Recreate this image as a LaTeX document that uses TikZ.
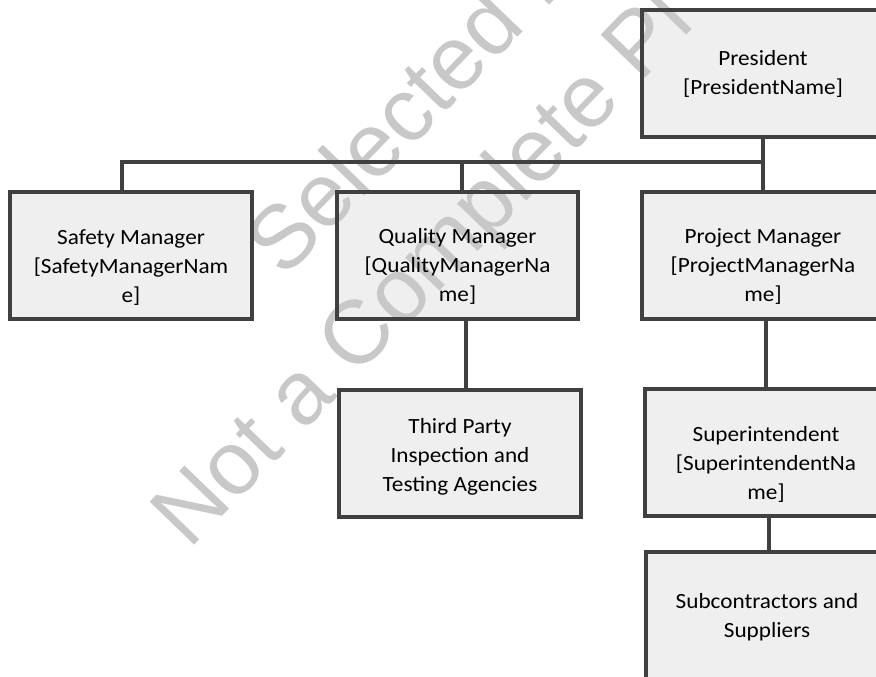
\documentclass[tikz,border=0pt]{standalone}
\usepackage{fontspec}
\setmainfont{Carlito}[FakeStretch=1.07]
\newfontfamily\wmfont{Liberation Sans}
\pgfdeclarelayer{fills}
\pgfdeclarelayer{wm}
\pgfsetlayers{fills,wm,main}
\definecolor{boxfill}{HTML}{EFEFEF}
\definecolor{linec}{HTML}{404040}
\definecolor{wmc}{HTML}{C8C8C8}
\begin{document}
\begin{tikzpicture}[x=1pt,y=-1pt,
  box/.style={draw=linec, line width=4pt, minimum width=242pt, minimum height=127pt,
    align=center, inner sep=0pt, font=\fontsize{21.7}{29}\selectfont},
  lowtext/.style={text height=96pt},
  conn/.style={draw=linec, line width=4pt},
  wmtext/.style={text=wmc, inner sep=0pt, rotate=46, anchor=base west,
    font=\wmfont\fontsize{90}{100}\selectfont}]
\useasboundingbox (0,0) rectangle (876,677);
\clip (0,0) rectangle (876,677);

\node[box] (pres) at (763,73.5) {President\\{[}PresidentName{]}};
\node[box, lowtext] (safety) at (131,255.5) {Safety Manager\\{[}SafetyManagerNam\\e{]}};
\node[box, lowtext, minimum width=241pt] (quality) at (457.5,255) {Quality Manager\\{[}QualityManagerNa\\me{]}};
\node[box, lowtext] (pm) at (763,255) {Project Manager\\{[}ProjectManagerNa\\me{]}};
\node[box, text height=80pt] (third) at (460,453) {Third Party\\Inspection and\\Testing Agencies};
\node[box, lowtext] (super) at (766,452.5) {Superintendent\\{[}SuperintendentNa\\me{]}};
\node[box, minimum height=130pt] (sub) at (767,617) {Subcontractors and\\Suppliers};

\begin{pgfonlayer}{fills}
  \foreach \n in {pres,safety,quality,pm,third,super,sub}
    \fill[boxfill] (\n.north west) rectangle (\n.south east);
\end{pgfonlayer}

\begin{pgfonlayer}{wm}
  \node[wmtext] (wm1) at (284,280) {Selected P};
  \node[wmtext] (wm2) at (189,551) {Not a Complete Pl};
\end{pgfonlayer}

\coordinate (busL) at (122,162);
\coordinate (busR) at (pres.south |- busL);
\draw[conn] (pres.south) -- (pm.north);
\draw[conn] (busL |- safety.north) -- (busL) -- (busR);
\draw[conn] ([xshift=4.5pt]quality.north |- busL) -- ([xshift=4.5pt]quality.north);
\draw[conn] ([xshift=6pt]third.north |- quality.south) -- ([xshift=6pt]third.north);
\draw[conn] (super.north |- pm.south) -- (super.north);
\draw[conn] ([xshift=2pt]sub.north |- super.south) -- ([xshift=2pt]sub.north);
\end{tikzpicture}
\end{document}
